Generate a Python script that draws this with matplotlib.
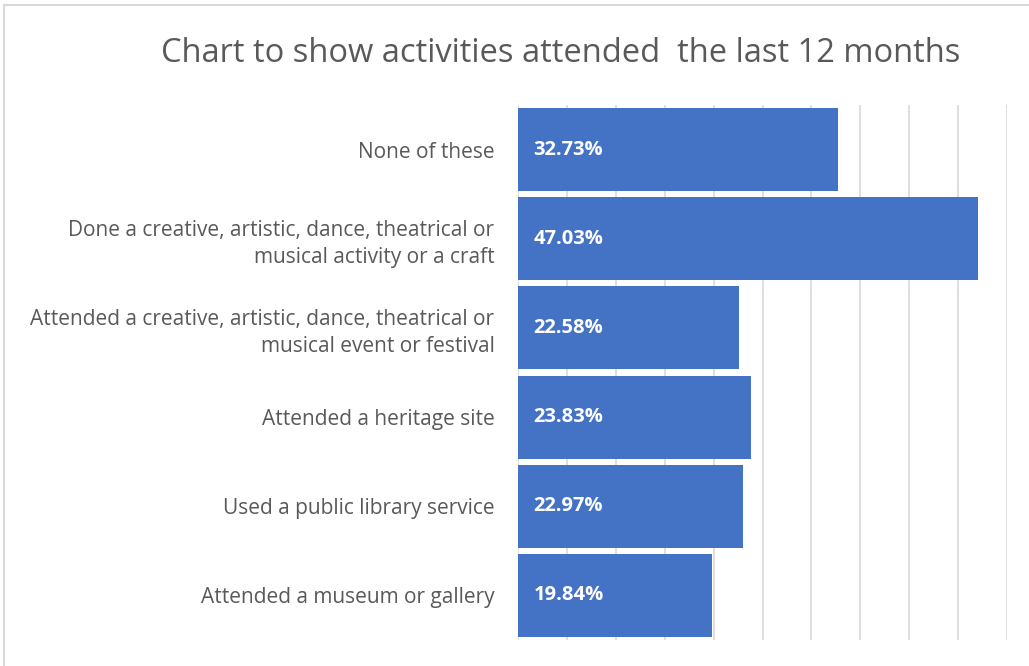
import matplotlib.pyplot as plt
from matplotlib.patches import Rectangle

# categories from top to bottom and share attended (%)
categorias = [
    "None of these",
    "Done a creative, artistic, dance, theatrical or\nmusical activity or a craft",
    "Attended a creative, artistic, dance, theatrical or\nmusical event or festival",
    "Attended a heritage site",
    "Used a public library service",
    "Attended a museum or gallery",
]
valores = [32.73, 47.03, 22.58, 23.83, 22.97, 19.84]

cor_barra = "#4472C4"
cor_texto = "#595959"
fonte = ["Open Sans", "DejaVu Sans"]

fig = plt.figure(figsize=(10.29, 6.66), dpi=100)
ax = fig.add_axes([518 / 1029, 1 - 640 / 666, (1007 - 518) / 1029, (640 - 105) / 666])

pos = list(range(len(categorias)))
ax.barh(pos, valores, height=0.93, color=cor_barra, zorder=3)
ax.set_ylim(len(categorias) - 0.5, -0.5)
ax.set_xlim(0, 50)
ax.set_xticks(range(0, 51, 5))
ax.xaxis.grid(True, color="#D9D9D9", linewidth=1.2, zorder=0)
ax.tick_params(axis="x", length=0, labelbottom=False)
ax.tick_params(axis="y", length=0, pad=17)
ax.set_yticks(pos)
ax.set_yticklabels(categorias, fontsize=15, color=cor_texto, family=fonte,
                   linespacing=1.35)
for s in ax.spines.values():
    s.set_visible(False)

# value labels inside the bars
for i, v in enumerate(valores):
    ax.text(1.6, i, f"{v:.2f}%", va="center", ha="left", color="white",
            fontsize=14.5, fontweight="bold", family=fonte, zorder=4)

fig.text(561 / 1029, 1 - 53 / 666, "Chart to show activities attended  the last 12 months",
         ha="center", va="center", fontsize=23.5, color=cor_texto, family=fonte)

# chart area border
fig.patches.append(Rectangle((4 / 1029, -0.05), 1.1, 1 - 5 / 666 + 0.05,
                             transform=fig.transFigure, fill=False,
                             edgecolor="#D9D9D9", linewidth=1.5))

fig.savefig("out.png", dpi=100)
